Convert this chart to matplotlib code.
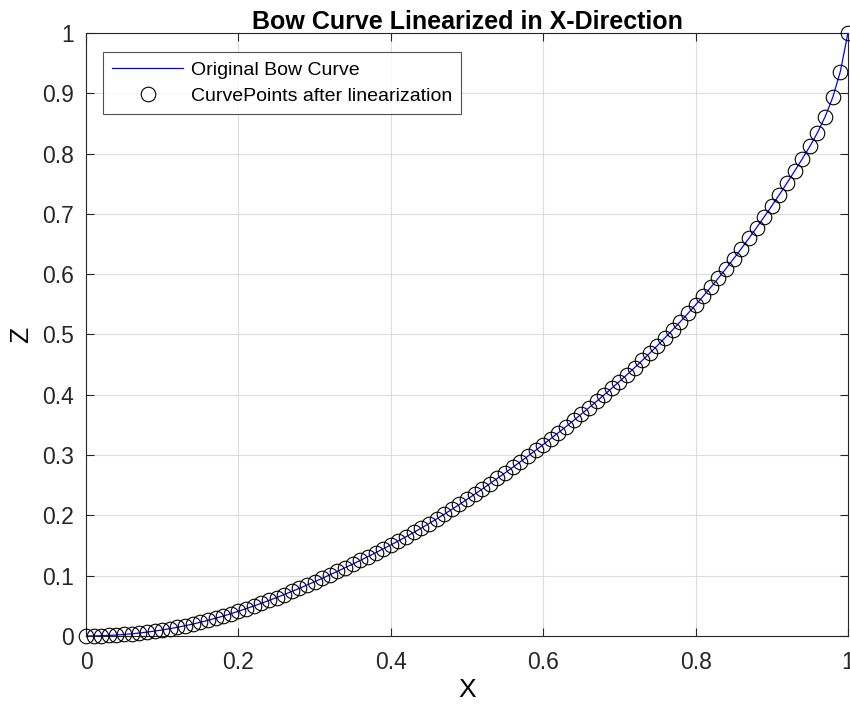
import numpy as np
import matplotlib.pyplot as plt

plt.rcParams['font.family'] = ['Liberation Sans', 'DejaVu Sans']

# curve points after linearization (step 0.01 in x)
x_pts = [0.00, 0.01, 0.02, 0.03, 0.04, 0.05, 0.06, 0.07, 0.08, 0.09,
         0.10, 0.11, 0.12, 0.13, 0.14, 0.15, 0.16, 0.17, 0.18, 0.19,
         0.20, 0.21, 0.22, 0.23, 0.24, 0.25, 0.26, 0.27, 0.28, 0.29,
         0.30, 0.31, 0.32, 0.33, 0.34, 0.35, 0.36, 0.37, 0.38, 0.39,
         0.40, 0.41, 0.42, 0.43, 0.44, 0.45, 0.46, 0.47, 0.48, 0.49,
         0.50, 0.51, 0.52, 0.53, 0.54, 0.55, 0.56, 0.57, 0.58, 0.59,
         0.60, 0.61, 0.62, 0.63, 0.64, 0.65, 0.66, 0.67, 0.68, 0.69,
         0.70, 0.71, 0.72, 0.73, 0.74, 0.75, 0.76, 0.77, 0.78, 0.79,
         0.80, 0.81, 0.82, 0.83, 0.84, 0.85, 0.86, 0.87, 0.88, 0.89,
         0.90, 0.91, 0.92, 0.93, 0.94, 0.95, 0.96, 0.97, 0.98, 0.99,
         1.00]
z_pts = [0.0000, 0.0001, 0.0004, 0.0009, 0.0016, 0.0025, 0.0036, 0.0049, 0.0064, 0.0081,
         0.0100, 0.0121, 0.0144, 0.0170, 0.0197, 0.0227, 0.0259, 0.0294, 0.0330, 0.0369,
         0.0410, 0.0452, 0.0496, 0.0542, 0.0589, 0.0637, 0.0687, 0.0738, 0.0790, 0.0844,
         0.0900, 0.0956, 0.1014, 0.1072, 0.1132, 0.1192, 0.1254, 0.1316, 0.1380, 0.1444,
         0.1510, 0.1577, 0.1646, 0.1716, 0.1789, 0.1863, 0.1940, 0.2018, 0.2099, 0.2181,
         0.2265, 0.2350, 0.2437, 0.2525, 0.2614, 0.2705, 0.2796, 0.2889, 0.2983, 0.3078,
         0.3175, 0.3272, 0.3372, 0.3472, 0.3575, 0.3678, 0.3784, 0.3890, 0.3999, 0.4108,
         0.4220, 0.4333, 0.4450, 0.4569, 0.4692, 0.4817, 0.4946, 0.5077, 0.5212, 0.5349,
         0.5490, 0.5634, 0.5783, 0.5936, 0.6094, 0.6257, 0.6424, 0.6595, 0.6770, 0.6949,
         0.7132, 0.7320, 0.7512, 0.7710, 0.7912, 0.8120, 0.8347, 0.8610, 0.8930, 0.9360,
         1.0000]

x_ticks = [0, 0.2, 0.4, 0.6, 0.8, 1]
x_labels = ['0', '0.2', '0.4', '0.6', '0.8', '1']
y_ticks = [0, 0.1, 0.2, 0.3, 0.4, 0.5, 0.6, 0.7, 0.8, 0.9, 1]
y_labels = ['0', '0.1', '0.2', '0.3', '0.4', '0.5', '0.6', '0.7', '0.8', '0.9', '1']

fig = plt.figure(figsize=(8.5, 7.09), dpi=100)
ax = fig.add_axes([0.1012, 0.103, 0.8964, 0.8505])

ax.plot(x_pts, z_pts, color='#0000ff', linewidth=0.9, label='Original Bow Curve', zorder=3)
ax.plot(x_pts, z_pts, linestyle='none', marker='o', markersize=10.5,
        markerfacecolor='none', markeredgecolor='black', markeredgewidth=0.8,
        label='CurvePoints after linearization', clip_on=False, zorder=4)

ax.set_xlim(0, 1)
ax.set_ylim(0, 1)
ax.set_xticks(x_ticks)
ax.set_xticklabels(x_labels)
ax.set_yticks(y_ticks)
ax.set_yticklabels(y_labels)
ax.tick_params(direction='in', length=6, width=0.8, colors='#262626',
               labelsize=16.5, top=True, right=True)
ax.tick_params(axis='x', pad=11)
ax.tick_params(axis='y', pad=9)
ax.grid(True, color='#dcdcdc', linewidth=0.8)
ax.set_axisbelow(True)
for s in ax.spines.values():
    s.set_color('#262626')
    s.set_linewidth(0.8)

ax.set_title('Bow Curve Linearized in X-Direction', fontsize=18, fontweight='bold', pad=3)
ax.set_xlabel('X', fontsize=19, labelpad=3)
ax.set_ylabel('Z', fontsize=19, labelpad=6)

leg = ax.legend(loc='upper left', bbox_to_anchor=(0.022, 0.968), fontsize=14,
                frameon=True, fancybox=False, edgecolor='#262626',
                handlelength=3.7, borderpad=0.45, labelspacing=0.45, handletextpad=0.4,
                borderaxespad=0)
leg.get_frame().set_linewidth(0.8)

fig.savefig('out.png', dpi=100)
